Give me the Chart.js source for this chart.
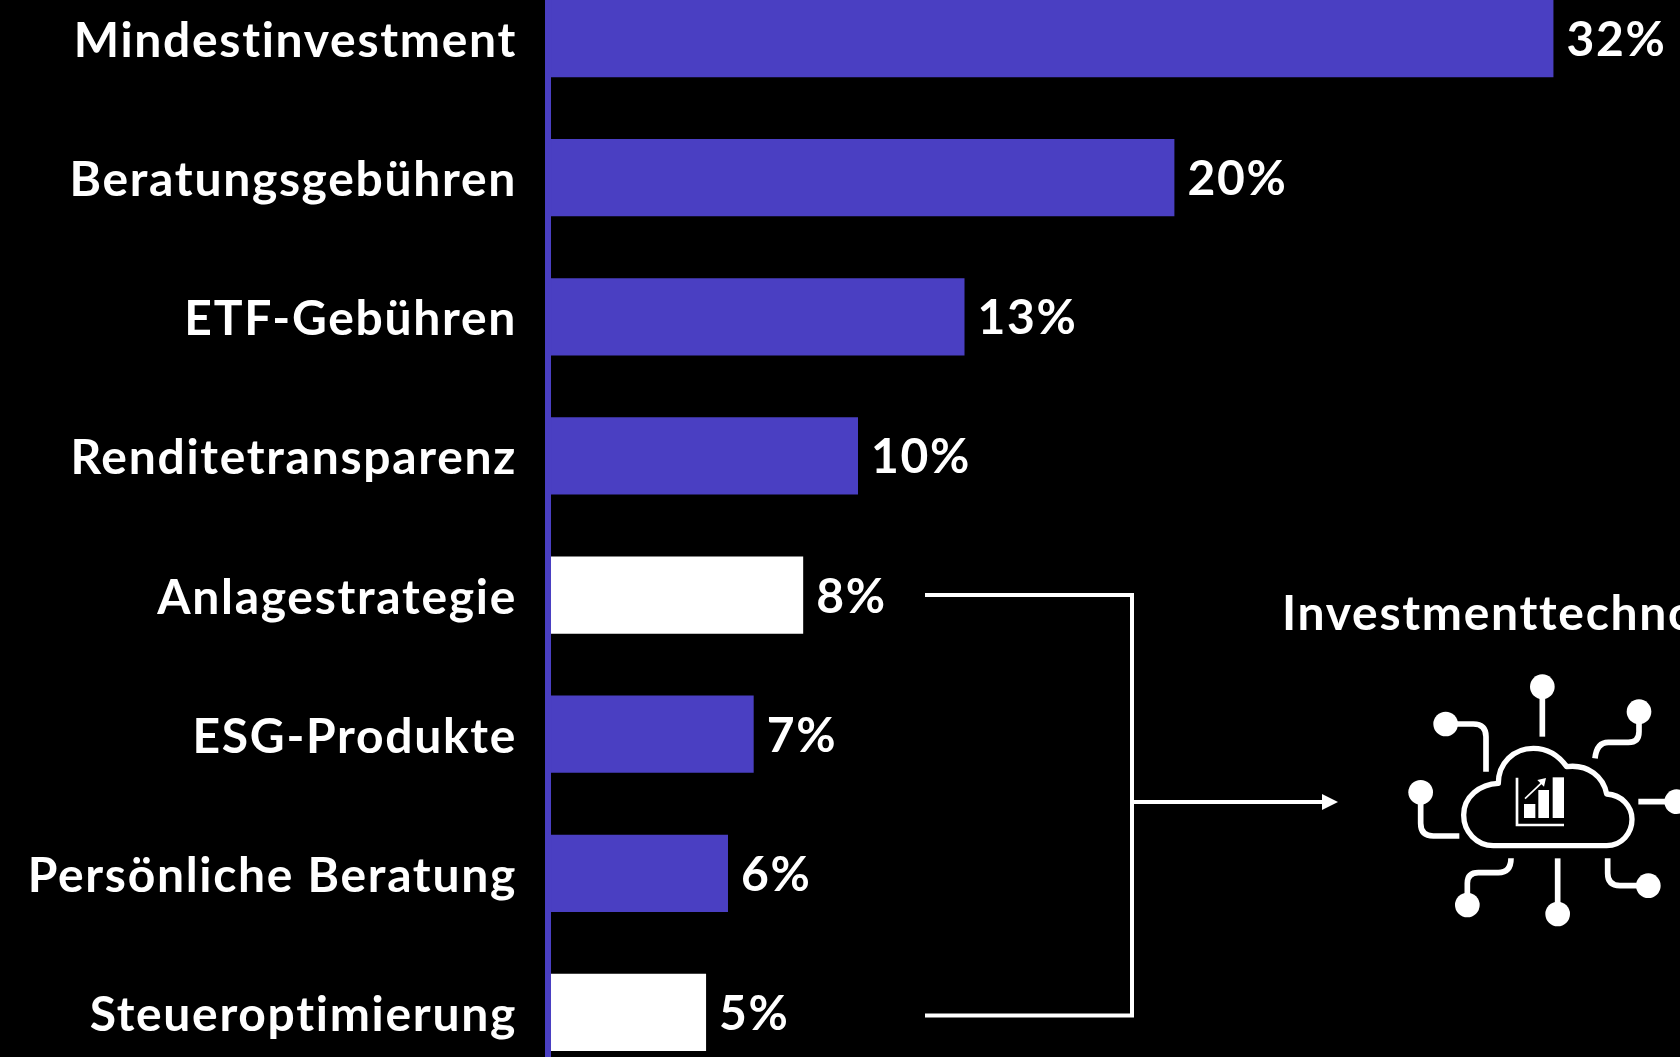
<!DOCTYPE html>
<html>
<head>
<meta charset="utf-8">
<style>
html,body{margin:0;padding:0;background:#000;overflow:hidden;width:1680px;height:1057px}
#wrap{position:absolute;left:0;top:-31px;width:1680px;height:1112px}
</style>
<script src="https://cdn.jsdelivr.net/npm/chart.js@4"></script>
</head>
<body>
<div id="wrap"><canvas id="surveyChart" width="1680" height="1113"></canvas></div>
<script>
const categories = ['Mindestinvestment', 'Beratungsgebühren', 'ETF-Gebühren', 'Renditetransparenz', 'Anlagestrategie', 'ESG-Produkte', 'Persönliche Beratung', 'Steueroptimierung']
// bar lengths, the printed labels are rounded
const barValues = [32, 19.9, 13.2, 9.8, 8.05, 6.47, 5.65, 4.95]
const valueLabels = ['32%', '20%', '13%', '10%', '8%', '7%', '6%', '5%']
const highlighted = ['Anlagestrategie', 'Steueroptimierung']
const calloutTitle = 'Investmenttechnologie'

const PURPLE = '#4a3fc2'
const WHITE = '#ffffff'
const FONT = 'Lato'
const FONT_SIZE = 48
const TRACKING = '1.7px'

const trackingPlugin = {
    id: 'tracking',
    beforeDraw(chart) {
        chart.ctx.letterSpacing = TRACKING
    }
}

const valueLabelPlugin = {
    id: 'valueLabels',
    afterDatasetsDraw(chart) {
        const ctx = chart.ctx
        ctx.save()
        ctx.fillStyle = WHITE
        ctx.font = `700 ${FONT_SIZE}px ${FONT}`
        ctx.textBaseline = 'middle'
        chart.getDatasetMeta(0).data.forEach((bar, i) => {
            ctx.fillText(valueLabels[i], bar.x + 13, bar.y + 2)
        })
        ctx.restore()
    }
}

const calloutPlugin = {
    id: 'callout',
    afterDraw(chart) {
        const ctx = chart.ctx
        const y = chart.scales.y
        const top = y.getPixelForValue(4)
        const bottom = y.getPixelForValue(7) + 3
        const mid = 833
        ctx.save()
        ctx.strokeStyle = WHITE
        ctx.fillStyle = WHITE
        ctx.lineWidth = 4
        ctx.beginPath()
        ctx.moveTo(925, top)
        ctx.lineTo(1132, top)
        ctx.lineTo(1132, bottom)
        ctx.lineTo(925, bottom)
        ctx.moveTo(1132, mid)
        ctx.lineTo(1325, mid)
        ctx.stroke()
        ctx.beginPath()
        ctx.moveTo(1338, mid)
        ctx.lineTo(1322, mid - 8)
        ctx.lineTo(1322, mid + 8)
        ctx.closePath()
        ctx.fill()

        ctx.font = `700 ${FONT_SIZE}px ${FONT}`
        ctx.textBaseline = 'alphabetic'
        ctx.fillText(calloutTitle, 1282, 661)

        drawIcon(ctx)
        ctx.restore()
    }
}

// cloud icon, sketched in the 3x units of the crop
const drawIcon = (ctx) => {
    ctx.save()
    ctx.translate(1250, 591)
    ctx.scale(1 / 3, 1 / 3)
    ctx.lineCap = 'butt'
    ctx.lineJoin = 'round'
    ctx.strokeStyle = WHITE
    ctx.fillStyle = WHITE

    ctx.lineWidth = 16
    ctx.stroke(new Path2D('M730 857 L1070 857 C1115 857 1146 820 1146 778 C1146 738 1115 705 1070 702 C1060 650 1015 612 950 620 C925 585 890 565 850 565 C790 565 745 610 745 670 C690 672 641 710 641 765 C641 815 680 857 730 857 Z'))

    const wires = [
        'M877 380 L877 530',
        'M1167 455 L1167 515 Q1167 547 1135 547 L1075 547 Q1040 547 1035 595',
        'M587 492 L670 492 Q708 492 708 530 L708 635',
        'M512 697 L512 790 Q512 828 550 828 L628 828',
        'M1280 725 L1165 725',
        'M652 1035 L652 970 Q652 938 685 938 L745 938 Q783 938 783 895',
        'M923 1062 L923 895',
        'M1195 977 L1110 977 Q1073 977 1073 940 L1073 895'
    ]
    ctx.lineWidth = 17
    wires.forEach(d => ctx.stroke(new Path2D(d)))

    const nodes = [[877, 380], [1167, 455], [587, 492], [512, 697], [1280, 725], [652, 1035], [923, 1062], [1195, 977]]
    nodes.forEach(([cx, cy]) => {
        ctx.beginPath()
        ctx.arc(cx, cy, 37, 0, Math.PI * 2)
        ctx.fill()
    })

    ctx.lineWidth = 8
    ctx.lineJoin = 'miter'
    ctx.stroke(new Path2D('M801 653 L801 795 L942 795'))
    ctx.fillRect(822, 732, 34, 42)
    ctx.fillRect(865, 690, 32, 84)
    ctx.fillRect(908, 652, 34, 122)
    ctx.lineWidth = 5
    ctx.stroke(new Path2D('M825 716 L882 662'))
    ctx.fill(new Path2D('M888 654 L862 660 L882 680 Z'))
    ctx.restore()
}

new Chart('surveyChart', {
    type: 'bar',
    data: {
        labels: categories,
        datasets: [{
            data: barValues,
            backgroundColor: categories.map(c => highlighted.includes(c) ? WHITE : PURPLE),
            borderWidth: 0,
            categoryPercentage: 1,
            barPercentage: 0.555
        }]
    },
    options: {
        indexAxis: 'y',
        responsive: false,
        animation: false,
        layout: {padding: 0},
        plugins: {
            legend: {display: false},
            tooltip: {enabled: false}
        },
        scales: {
            x: {
                display: false,
                min: -0.096,
                max: 36.04
            },
            y: {
                afterFit(scale) {
                    scale.width = 548
                    scale.paddingTop = 0
                    scale.paddingBottom = 0
                },
                grid: {display: false, drawTicks: false},
                border: {display: true, color: PURPLE, width: 6},
                ticks: {
                    color: WHITE,
                    padding: 31,
                    labelOffset: 3,
                    autoSkip: false,
                    font: {family: FONT, weight: '700', size: FONT_SIZE}
                }
            }
        }
    },
    plugins: [trackingPlugin, valueLabelPlugin, calloutPlugin]
})
</script>
</body>
</html>
